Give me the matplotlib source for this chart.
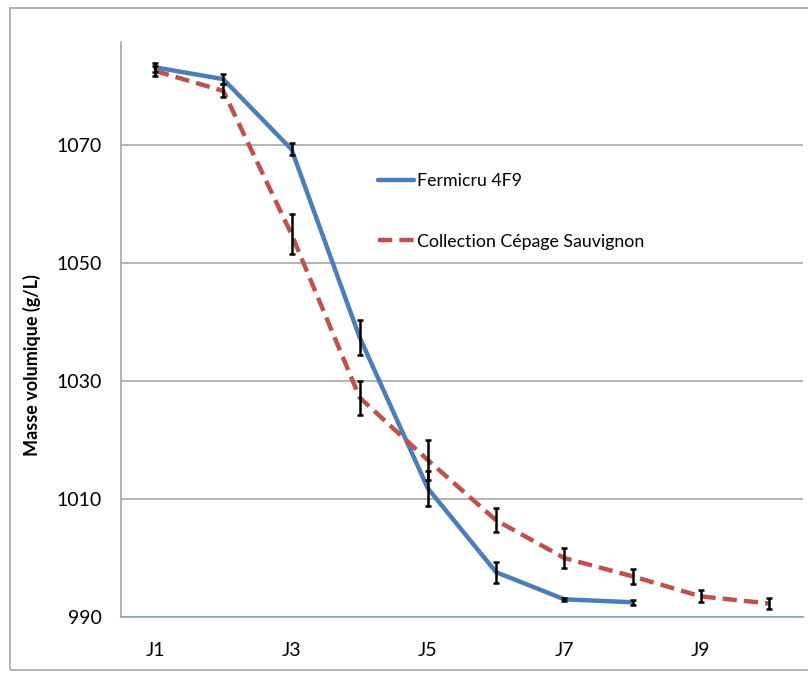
import matplotlib.pyplot as plt
from matplotlib.patches import Rectangle

plt.rcParams['font.family'] = ['Lato', 'DejaVu Sans']

days = ['J1', 'J2', 'J3', 'J4', 'J5', 'J6', 'J7', 'J8', 'J9', 'J10']
fermicru = [1083.2, 1081.2, 1069.3, 1037.4, 1011.8, 997.6, 993.0, 992.5]
fermicru_err = [0.8, 0.9, 1.0, 2.9, 3.0, 1.8, 0.3, 0.4]
sauvignon = [1082.6, 1079.2, 1054.9, 1027.2, 1016.6, 1006.4, 1000.0, 996.9, 993.5, 992.3]
sauvignon_err = [0.8, 1.1, 3.4, 2.9, 3.4, 2.0, 1.7, 1.3, 1.0, 0.9]
yticks = [990, 1010, 1030, 1050, 1070]
xtick_labels = ['J1', 'J3', 'J5', 'J7', 'J9']

fig = plt.figure(figsize=(8.08, 6.75), dpi=100)
ax = fig.add_axes([121 / 808, 58 / 675, 682 / 808, 575 / 675])

# outer chart frame
fig.patches.append(Rectangle((10 / 808, 5 / 675), 1.0, 662 / 675, transform=fig.transFigure,
                             fill=False, edgecolor='#a6a6a6', lw=1.2, zorder=0))

x_f = list(range(1, len(fermicru) + 1))
x_s = list(range(1, len(sauvignon) + 1))

ax.plot(x_f, fermicru, color='#4a7ebb', lw=3.2, solid_capstyle='round',
        label='Fermicru 4F9', zorder=3)
ax.plot(x_s, sauvignon, color='#c0504d', lw=3.2, dashes=(3.2, 1.6),
        label='Collection Cépage Sauvignon', zorder=3)
ax.errorbar(x_f, fermicru, yerr=fermicru_err, fmt='none', ecolor='black',
            elinewidth=1.8, capsize=2.5, capthick=1.8, zorder=4)
ax.errorbar(x_s, sauvignon, yerr=sauvignon_err, fmt='none', ecolor='black',
            elinewidth=1.8, capsize=2.5, capthick=1.8, zorder=4)

ax.set_xlim(0.5, 10.5)
ax.set_ylim(990, 1087.5)
ax.set_yticks(yticks)
ax.set_xticks([1, 3, 5, 7, 9])
ax.set_xticklabels(xtick_labels)
ax.tick_params(axis='both', length=0, labelsize=14)
ax.tick_params(axis='y', pad=14)
ax.tick_params(axis='x', pad=18)

ax.grid(axis='y', color='#a6a6a6', lw=1.2)
ax.set_axisbelow(True)
for side in ['top', 'right']:
    ax.spines[side].set_visible(False)
ax.spines['left'].set_color('#a6a6a6')
ax.spines['bottom'].set_color('#8fa3b8')
ax.spines['left'].set_linewidth(1.2)
ax.spines['bottom'].set_linewidth(1.2)

fig.text(32 / 808, 1 - 365 / 675, 'Masse volumique (g/L)', rotation=90,
         ha='center', va='center', fontsize=13, fontweight='bold')

ax.legend(loc='upper left', bbox_to_anchor=(250 / 682, 1 - 124 / 575), frameon=False,
          fontsize=12.8, handlelength=2.0, handletextpad=0.2, labelspacing=2.5,
          borderaxespad=0)

fig.savefig('out.png', dpi=100, facecolor='white')
